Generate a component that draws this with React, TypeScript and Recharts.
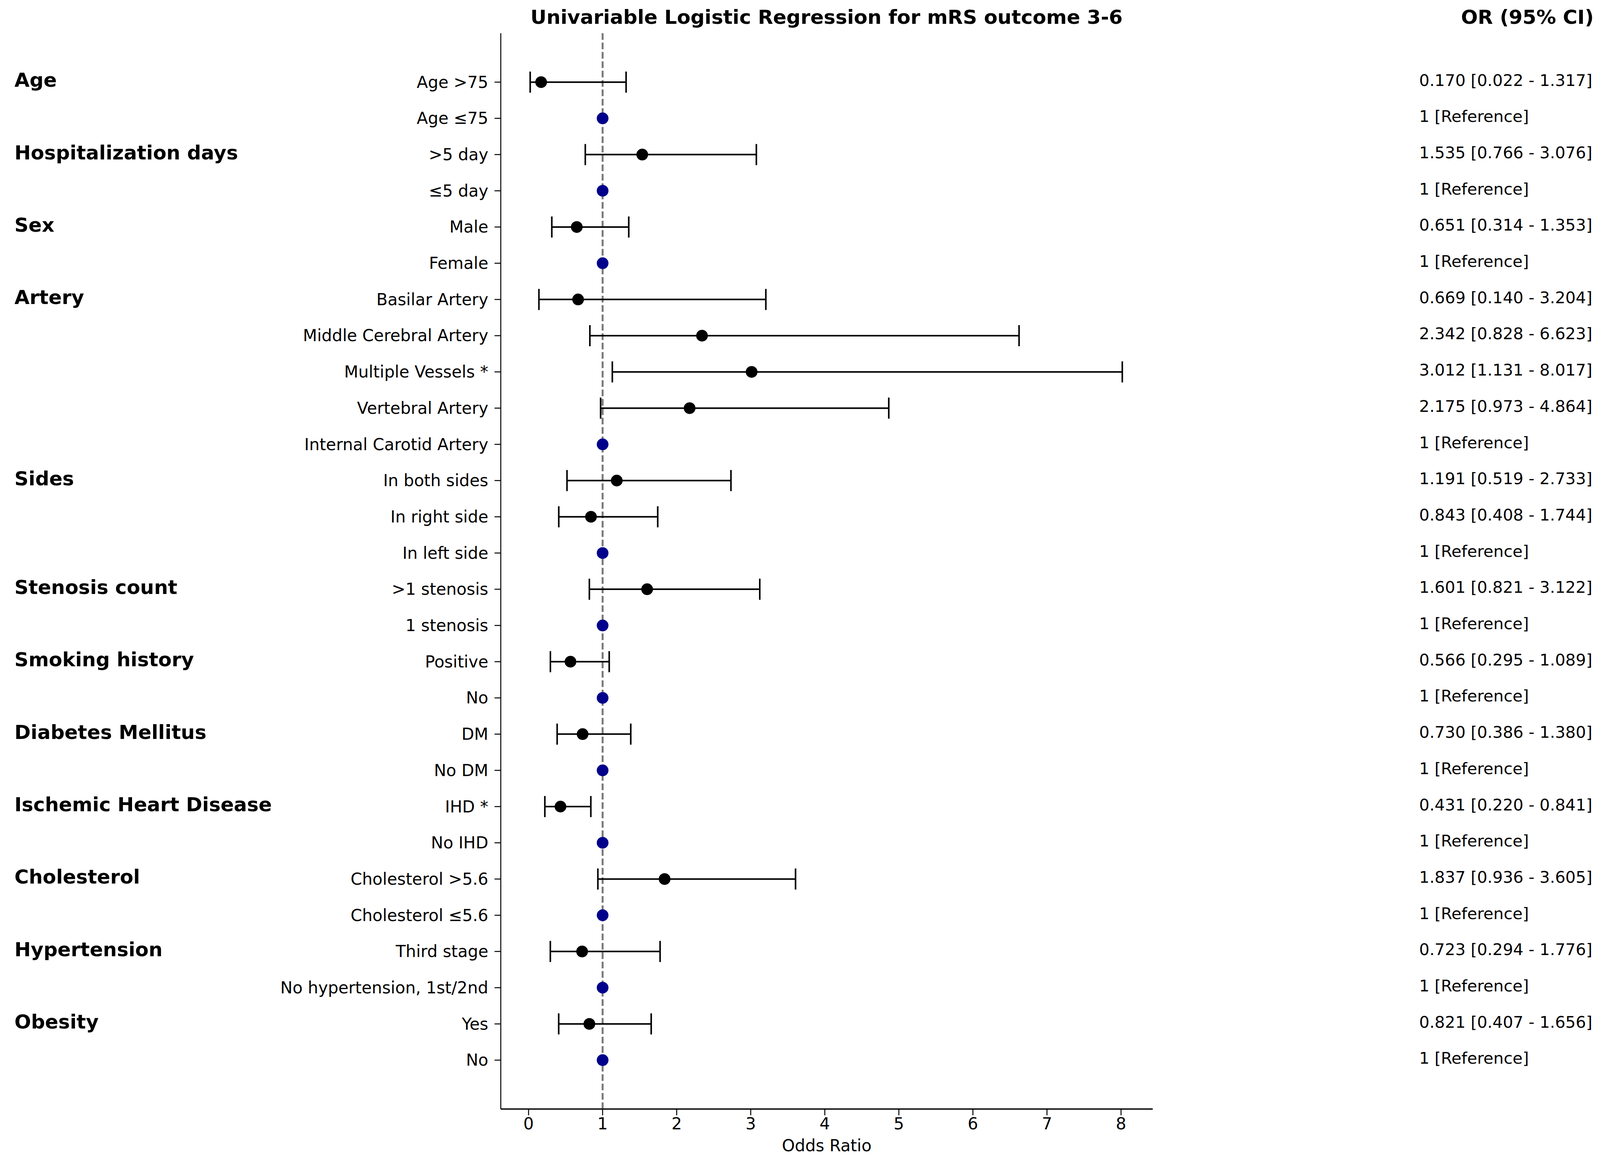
import React from "react";
import { ScatterChart, Scatter, XAxis, YAxis, ErrorBar, ReferenceLine } from "recharts";

const rowLabels = [
  "Age >75", "Age ≤75", ">5 day", "≤5 day", "Male", "Female",
  "Basilar Artery", "Middle Cerebral Artery", "Multiple Vessels *", "Vertebral Artery", "Internal Carotid Artery",
  "In both sides", "In right side", "In left side", ">1 stenosis", "1 stenosis",
  "Positive", "No", "DM", "No DM", "IHD *", "No IHD",
  "Cholesterol >5.6", "Cholesterol ≤5.6", "Third stage", "No hypertension, 1st/2nd", "Yes", "No",
];

const groupLabels = [
  "Age", "", "Hospitalization days", "", "Sex", "",
  "Artery", "", "", "", "",
  "Sides", "", "", "Stenosis count", "",
  "Smoking history", "", "Diabetes Mellitus", "", "Ischemic Heart Disease", "",
  "Cholesterol", "", "Hypertension", "", "Obesity", "",
];

const oddsRatios = [
  0.170, 1, 1.535, 1, 0.651, 1,
  0.669, 2.342, 3.012, 2.175, 1,
  1.191, 0.843, 1, 1.601, 1,
  0.566, 1, 0.730, 1, 0.431, 1,
  1.837, 1, 0.723, 1, 0.821, 1,
];

// null = reference category
const ciLow = [
  0.022, null, 0.766, null, 0.314, null,
  0.140, 0.828, 1.131, 0.973, null,
  0.519, 0.408, null, 0.821, null,
  0.295, null, 0.386, null, 0.220, null,
  0.936, null, 0.294, null, 0.407, null,
];

const ciHigh = [
  1.317, null, 3.076, null, 1.353, null,
  3.204, 6.623, 8.017, 4.864, null,
  2.733, 1.744, null, 3.122, null,
  1.089, null, 1.380, null, 0.841, null,
  3.605, null, 1.776, null, 1.656, null,
];

const xTicks = [0, 1, 2, 3, 4, 5, 6, 7, 8];
const rowTicks = rowLabels.map((_, i) => i);

const estimates = rowLabels
  .map((label, i) => ({ row: i, label, or: oddsRatios[i], lo: ciLow[i], hi: ciHigh[i] }))
  .filter((d) => d.lo !== null)
  .map((d) => ({ ...d, err: [d.or - (d.lo as number), (d.hi as number) - d.or] }));

const references = rowLabels
  .map((label, i) => ({ row: i, label, or: oddsRatios[i], lo: ciLow[i] }))
  .filter((d) => d.lo === null);

function orText(i: number) {
  const lo = ciLow[i];
  const hi = ciHigh[i];
  if (lo === null || hi === null) return "1 [Reference]";
  return `${oddsRatios[i].toFixed(3)} [${lo.toFixed(3)} - ${hi.toFixed(3)}]`;
}

function RowTick(props: any) {
  const { x, y, payload } = props;
  const i = payload.value as number;
  return (
    <g>
      <text x={x} y={y} textAnchor="end" dominantBaseline="central" fontSize={42} fill="#000">
        {rowLabels[i]}
      </text>
      {groupLabels[i] && (
        <text x={37} y={y - 5} textAnchor="start" dominantBaseline="central" fontSize={50} fontWeight="bold" fill="#000">
          {groupLabels[i]}
        </text>
      )}
      <text x={3633} y={y - 5} textAnchor="start" dominantBaseline="central" fontSize={41.5} fill="#000">
        {orText(i)}
      </text>
    </g>
  );
}

const dot = (color: string) => (props: any) => (
  <circle cx={props.cx} cy={props.cy} r={15} fill={color} />
);

export default function App() {
  return (
    <div style={{ position: "absolute", left: 0, top: 0, width: 4107, height: 2994, background: "#fff", fontFamily: "DejaVu Sans" }}>
      <div
        style={{
          position: "absolute", left: 2116, top: 44, transform: "translate(-50%, -50%)",
          fontSize: 50.5, fontWeight: "bold", whiteSpace: "nowrap", lineHeight: 1,
        }}
      >
        Univariable Logistic Regression for mRS outcome 3-6
      </div>
      <div
        style={{
          position: "absolute", right: 4107 - 4080, top: 44, transform: "translateY(-50%)",
          fontSize: 50.5, fontWeight: "bold", whiteSpace: "nowrap", lineHeight: 1,
        }}
      >
        OR (95% CI)
      </div>
      <ScatterChart
        width={4107}
        height={2994}
        margin={{ top: 85, right: 1156, bottom: 0, left: 0 }}
        style={{ fontFamily: "DejaVu Sans" }}
      >
        <XAxis
          type="number"
          dataKey="or"
          domain={[-0.375, 8.428]}
          allowDataOverflow
          ticks={xTicks}
          interval={0}
          height={156}
          tickSize={16}
          tickMargin={6}
          axisLine={{ stroke: "#222", strokeWidth: 4 }}
          tickLine={{ stroke: "#000", strokeWidth: 2.5 }}
          tick={{ fontSize: 42, fill: "#000" }}
          label={{ value: "Odds Ratio", position: "insideBottom", offset: 48, fontSize: 42, fill: "#000" }}
        />
        <YAxis
          type="number"
          dataKey="row"
          domain={[-1.35, 28.35]}
          allowDataOverflow
          reversed
          ticks={rowTicks}
          interval={0}
          width={1282}
          tickSize={16}
          tickMargin={16}
          axisLine={{ stroke: "#000", strokeWidth: 2.5 }}
          tickLine={{ stroke: "#000", strokeWidth: 2.5 }}
          tick={<RowTick />}
        />
        <ReferenceLine x={1} stroke="#7a7a7a" strokeWidth={5} strokeDasharray="17 7" />
        <Scatter data={estimates} isAnimationActive={false} shape={dot("#000")}>
          <ErrorBar dataKey="err" direction="x" width={27} stroke="#000" strokeWidth={4} />
        </Scatter>
        <Scatter data={references} isAnimationActive={false} shape={dot("#00008b")} />
      </ScatterChart>
    </div>
  );
}
